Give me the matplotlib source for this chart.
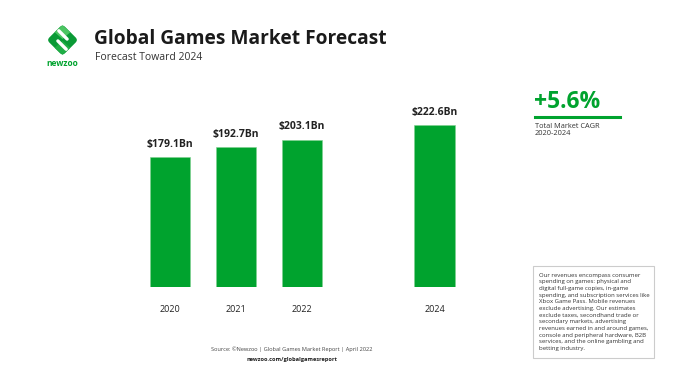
import numpy as np
import matplotlib.pyplot as plt
from matplotlib.patches import FancyBboxPatch, Rectangle, Polygon
from matplotlib.lines import Line2D
import matplotlib.transforms as mtransforms

years = [2020, 2021, 2022, 2024]
revenue_bn = [179.1, 192.7, 203.1, 222.6]
value_labels = ["$179.1Bn", "$192.7Bn", "$203.1Bn", "$222.6Bn"]
year_labels = ["2020", "2021", "2022", "2024"]

GREEN = "#00a32e"
DARK = "#222222"
W, H = 699, 383

plt.rcParams["font.family"] = ["Open Sans", "DejaVu Sans"]

fig = plt.figure(figsize=(W / 100, H / 100), dpi=100)
fig.patch.set_facecolor("white")


def fx(px):
    return px / W


def fy(py):
    return 1 - py / H


# bar axes: 2020 centre at x=169.7px, 66.2px per year, zero at y=287.3px
px_per_year = 66.2
ax_left_px, ax_right_px = 130, 480
ax_top_px, ax_bot_px = 95, 287.3
px_per_bn = 0.7275
ax = fig.add_axes([fx(ax_left_px), fy(ax_bot_px),
                   (ax_right_px - ax_left_px) / W, (ax_bot_px - ax_top_px) / H])
ax.set_xlim(2020 - (169.7 - ax_left_px) / px_per_year,
            2020 + (ax_right_px - 169.7) / px_per_year)
ax.set_ylim(0, (ax_bot_px - ax_top_px) / px_per_bn)
ax.axis("off")

ax.bar(years, revenue_bn, width=0.61, color=GREEN, edgecolor="#7fd08f", linewidth=0.4)
for x, v, lab in zip(years, revenue_bn, value_labels):
    ax.text(x, v + 10, lab, ha="center", va="bottom", fontsize=7.5,
            fontweight="bold", color=DARK)
for x, lab in zip(years, year_labels):
    ax.text(x, -30, lab, ha="center", va="center", fontsize=6.5, color=DARK)

# header
fig.text(fx(94), fy(39), "Global Games Market Forecast", fontsize=13.8,
         fontweight="bold", color="#1a1a1a", va="center", ha="left")
fig.text(fx(95), fy(58), "Forecast Toward 2024", fontsize=7.5,
         color="#333333", va="center", ha="left")

# logo
lax = fig.add_axes([fx(44), fy(58.5), 37 / W, 37 / H])
lax.set_xlim(-1, 1)
lax.set_ylim(-1, 1)
lax.axis("off")
sq = FancyBboxPatch((-0.6, -0.6), 1.2, 1.2,
                    boxstyle="round,pad=0,rounding_size=0.2",
                    facecolor="#0a9a36", edgecolor="none")
sq.set_transform(mtransforms.Affine2D().rotate_deg(45) + lax.transData)
lax.add_patch(sq)
lax.add_patch(Polygon([(-0.42, 0.42), (0.0, 0.8), (0.42, 0.42), (0.0, 0.05)],
                      closed=True, facecolor="#4cc562", edgecolor="none"))
lax.add_patch(Polygon([(-0.42, -0.42), (0.0, -0.05), (0.42, -0.42), (0.0, -0.8)],
                      closed=True, facecolor="#1fae45", edgecolor="none"))
lax.plot([-0.2, 0.25], [0.5, 0.05], color="white", lw=2.4, solid_capstyle="round")
lax.plot([-0.25, 0.2], [-0.05, -0.5], color="white", lw=2.4, solid_capstyle="round")
fig.text(fx(62.5), fy(63), "newzoo", fontsize=6, fontweight="bold",
         color=GREEN, ha="center", va="center")

# CAGR callout
fig.text(fx(534), fy(102), "+5.6%", fontsize=16.5, fontweight="bold",
         color=GREEN, ha="left", va="center")
fig.add_artist(Line2D([fx(535), fx(620)], [fy(117), fy(117)],
                      color=GREEN, lw=2.2, transform=fig.transFigure))
fig.text(fx(535), fy(127), "Total Market CAGR", fontsize=5.3,
         color="#333333", ha="left", va="center")
fig.text(fx(535), fy(133.5), "2020-2024", fontsize=5.3,
         color="#333333", ha="left", va="center")

# note box
fig.add_artist(Rectangle((fx(533), fy(358)), (654 - 533) / W, (358 - 266) / H,
                         facecolor="white", edgecolor="#cccccc", lw=0.8,
                         transform=fig.transFigure))
note = ("Our revenues encompass consumer\n"
        "spending on games: physical and\n"
        "digital full-game copies, in-game\n"
        "spending, and subscription services like\n"
        "Xbox Game Pass. Mobile revenues\n"
        "exclude advertising. Our estimates\n"
        "exclude taxes, secondhand trade or\n"
        "secondary markets, advertising\n"
        "revenues earned in and around games,\n"
        "console and peripheral hardware, B2B\n"
        "services, and the online gambling and\n"
        "betting industry.")
fig.text(fx(539), fy(272.5), note, fontsize=4.3, color="#333333",
         ha="left", va="top", linespacing=1.42)

# source
fig.text(fx(292), fy(349), "Source: \u00a9Newzoo | Global Games Market Report | April 2022",
         fontsize=4.1, color="#444444", ha="center", va="center")
fig.text(fx(292), fy(359), "newzoo.com/globalgamesreport", fontsize=4.1,
         fontweight="bold", color="#222222", ha="center", va="center")

fig.savefig("out.png", dpi=100, facecolor="white")
